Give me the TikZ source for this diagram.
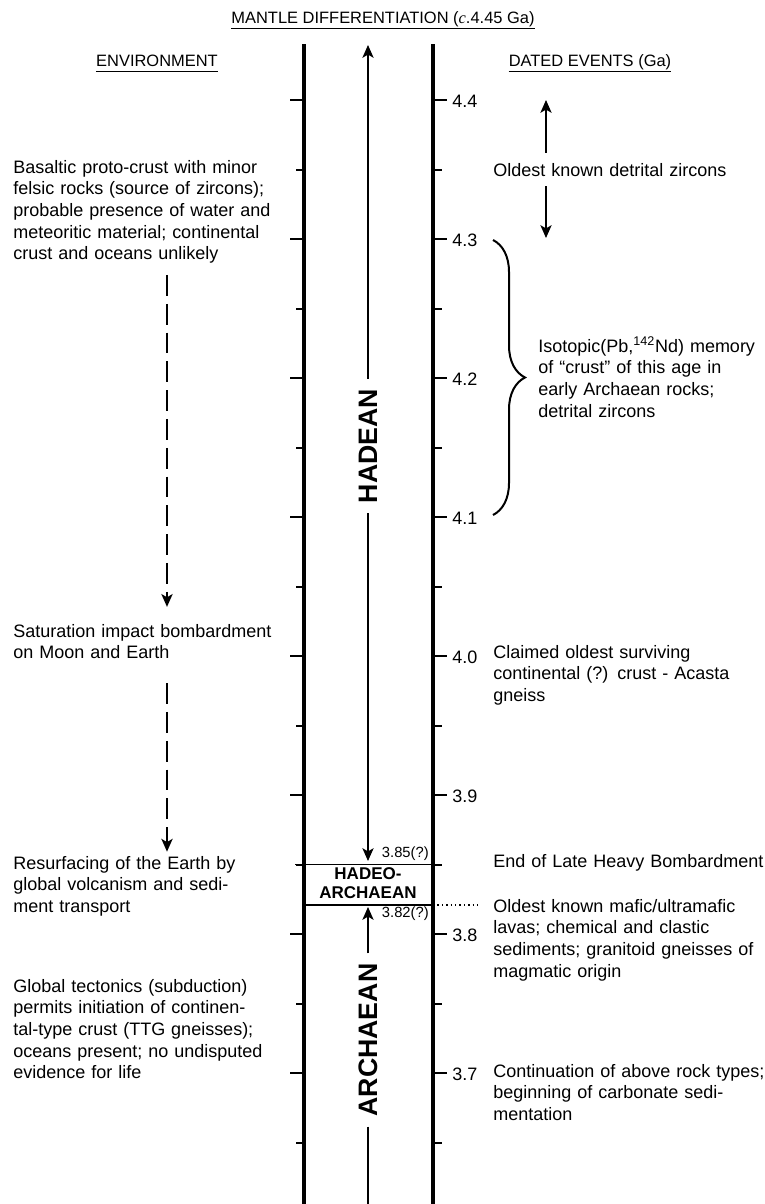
\documentclass[tikz,border=0pt]{standalone}
\usepackage{fontspec}
\setmainfont{Liberation Sans}
\newfontfamily\serifit{Liberation Serif}
\usepackage{tikz}
\usetikzlibrary{
  arrows.meta,
  positioning,
  calc,
  decorations.pathreplacing
}
\definecolor{tlInk}{HTML}{000000}
\newcommand{\fillline}[1]{\makebox[\linewidth][s]{#1}}

\tikzset{
  colline/.style={line width=0.8mm, tlInk},
  tickmark/.style={line width=0.5mm, tlInk},
  hline/.style={line width=0.4mm, tlInk},
  dotline/.style={line width=0.35mm, tlInk, dash pattern=on 0.35mm off 0.75mm},
  uline/.style={line width=0.35mm, tlInk},
  tipS/.style={-{Stealth[length=3.2mm, width=2.8mm, inset=0.8mm]}},
  erarrow/.style={line width=0.35mm, tlInk, tipS},
  eraline/.style={line width=0.35mm, tlInk},
  envarrow/.style={line width=0.5mm, tlInk, dash pattern=on 5.2mm off 2mm, tipS},
  eralabel/.style={rotate=90, inner sep=2.5mm, font=\bfseries\fontsize{19}{19}\selectfont},
  hadeo/.style={anchor=base, align=center, inner sep=0pt, font=\bfseries\fontsize{12.1}{13.5}\selectfont},
  smalllab/.style={anchor=base east, inner sep=0pt, font=\fontsize{10.5}{12}\selectfont},
  header/.style={anchor=base, inner sep=0pt, font=\fontsize{11.7}{14}\selectfont},
  envtext/.style={anchor=base west, align=left, text width=72mm, inner sep=0pt},
  evtext/.style={anchor=base west, align=left, text width=70mm, inner sep=0pt},
  agelab/.style={anchor=west, inner sep=0pt}
}

\begin{document}
\begin{tikzpicture}[x=0.25mm, y=-0.25mm, font=\fontsize{12.8}{15.43}\selectfont]
  \useasboundingbox (0,0) rectangle (765,1204);

  \node[header] (title) at (383,23) {MANTLE DIFFERENTIATION ({\serifit\itshape c}.4.45 Ga)};
  \node[header] (envhead) at (157,66) {ENVIRONMENT};
  \node[header] (datehead) at (590,66) {DATED EVENTS (Ga)};
  \foreach \h in {title, envhead, datehead}{
    \draw[uline] ([yshift=-1.3mm]\h.base west) -- ([yshift=-1.3mm]\h.base east);
  }

  \draw[colline] (304,44) -- (304,1204);
  \draw[colline] (433,44) -- (433,1204);

  \foreach \k/\lab [evaluate=\k as \y using 100+139*\k] in {0/4.4, 1/4.3, 2/4.2, 3/4.1, 4/4.0, 5/3.9, 6/3.8, 7/3.7}{
    \draw[tickmark] (290,\y) -- (304,\y);
    \draw[tickmark] (433,\y) -- (447,\y);
    \node[agelab] (age\k) at (452,{\y+1.5}) {\lab};
  }
  \foreach \k [evaluate=\k as \y using 169.5+139*\k] in {0,...,7}{
    \draw[tickmark] (296,\y) -- (304,\y);
    \draw[tickmark] (433,\y) -- (442,\y);
  }

  \coordinate (b385w) at (295,864.5);
  \coordinate (b385e) at (442,864.5);
  \coordinate (b382w) at (304,905);
  \coordinate (b382e) at (433,905);
  \coordinate (b382d) at (481,905);
  \draw[hline] (b385w) -- (b385e);
  \draw[hline] (b382w) -- (b382e);
  \draw[dotline] (b382e) -- (b382d);

  \node[smalllab] (l385) at (429,857) {3.85(?)};
  \node[smalllab] (l382) at (429,917) {3.82(?)};
  \node[hadeo] (hadeo) at (368,898) {HADEO-\\ARCHAEAN};

  \node[eralabel] (hadean) at (368,446) {HADEAN};
  \node[eralabel] (archaean) at (368,1040) {ARCHAEAN};
  \coordinate (topend) at (368,45);
  \coordinate (hadend) at (368,861);
  \coordinate (archtop) at (368,907);
  \coordinate (archbot) at (368,1204);
  \draw[erarrow] (hadean.east) -- (topend);
  \draw[erarrow] (hadean.west) -- (hadend);
  \draw[erarrow] (archaean.east) -- (archtop);
  \draw[eraline] (archaean.west) -- (archbot);

  \node[envtext] (proto) at (13,173) {Basaltic proto-crust with minor\\felsic rocks (source of zircons);\\probable presence of water and\\meteoritic material; continental\\crust and oceans unlikely};
  \node[envtext] (satur) at (13,637) {Saturation impact bombardment\\on Moon and Earth};
  \node[envtext] (resurf) at (13,869) {Resurfacing of the Earth by\\global volcanism and sedi-\\ment transport};
  \node[envtext] (tecton) at (13,992) {Global tectonics (subduction)\\permits initiation of continen-\\tal-type crust (TTG gneisses);\\oceans present; no undisputed\\evidence for life};
  \coordinate (envx) at (167,0);
  \draw[envarrow, shorten <=2.8mm, shorten >=4.2mm] (proto.south -| envx) -- (satur.north -| envx);
  \draw[envarrow, shorten <=6mm, shorten >=1mm] (satur.south -| envx) -- (resurf.north -| envx);

  \node[evtext] (zircon) at (493,176) {Oldest known detrital zircons};
  \coordinate (z44) at (546,100);
  \coordinate (z43) at (546,238);
  \draw[erarrow, shorten <=2.5mm] (zircon.north -| z44) -- (z44);
  \draw[erarrow, shorten <=2.5mm] (zircon.south -| z44) -- (z43);

  \coordinate (br43) at (493,240);
  \coordinate (br41) at (493,515);
  \draw[tickmark, decorate, decoration={brace, amplitude=8mm}] (br43) -- (br41);
  \node[evtext, text width=55mm] (memory) at (538,352) {\fillline{Isotopic(Pb,\textsuperscript{142}Nd) memory}\\\fillline{of “crust” of this age in}\\\fillline{early Archaean rocks;}\\detrital zircons};

  \node[evtext, text width=58mm] (acasta) at (493,658) {\fillline{Claimed oldest surviving}\\\fillline{continental (?) crust - Acasta}\\gneiss};
  \node[evtext] (lhb) at (493,867) {End of Late Heavy Bombardment};
  \node[evtext, text width=65mm] (lavas) at (493,912) {\fillline{Oldest known mafic/ultramafic}\\\fillline{lavas; chemical and clastic}\\\fillline{sediments; granitoid gneisses of}\\magmatic origin};
  \node[evtext] (carbon) at (493,1077) {Continuation of above rock types;\\beginning of carbonate sedi-\\mentation};
\end{tikzpicture}
\end{document}
